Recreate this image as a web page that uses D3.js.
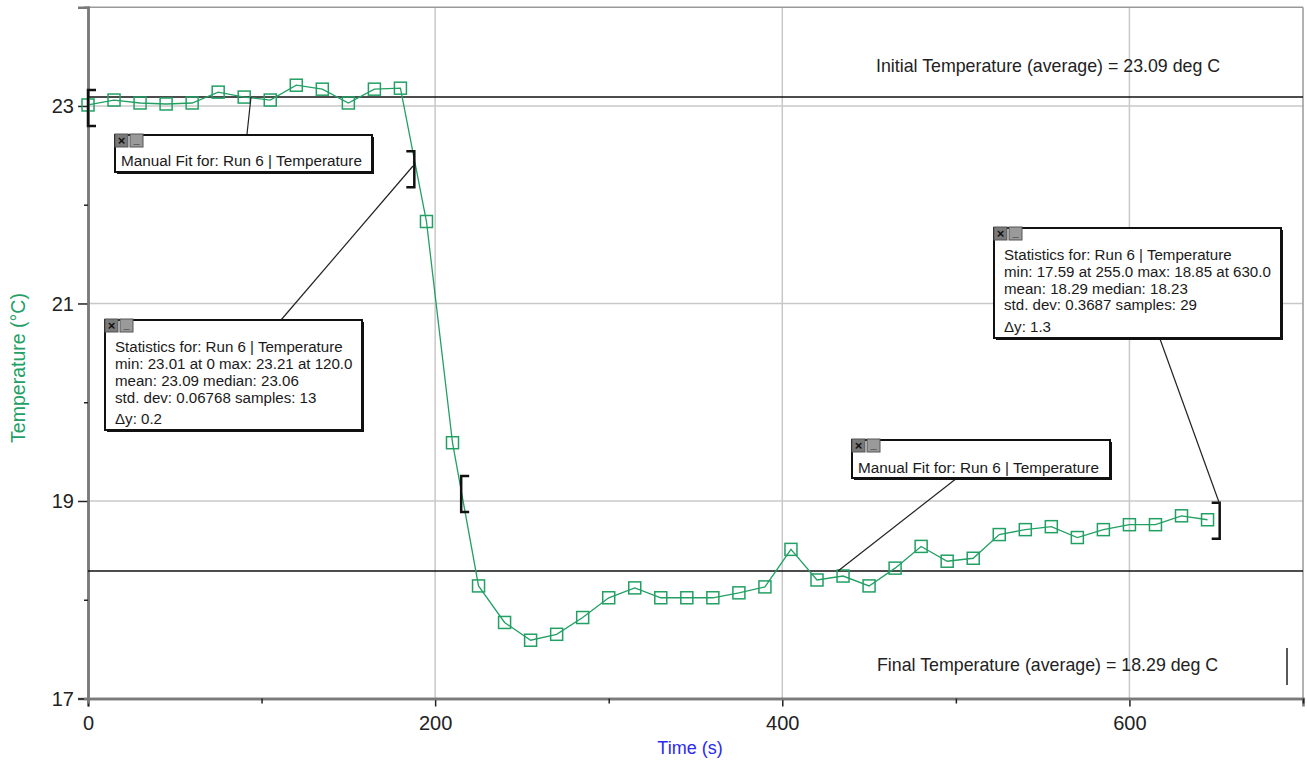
<!DOCTYPE html>
<html><head><meta charset="utf-8">
<script src="https://cdn.jsdelivr.net/npm/d3@7"></script>
<style>html,body{margin:0;padding:0;background:#fff;} svg{display:block;font-family:"Liberation Sans",Arial,sans-serif;}</style>
</head><body>
<script>
// ---- data ----
const times = [0,15,30,45,60,75,90,105,120,135,150,165,180,195,210,225,240,255,270,285,300,315,330,345,360,375,390,405,420,435,450,465,480,495,510,525,540,555,570,585,600,615,630,645];
const temperature = [23.01,23.06,23.03,23.02,23.03,23.14,23.09,23.06,23.21,23.17,23.03,23.17,23.18,21.83,19.59,18.14,17.77,17.59,17.65,17.82,18.02,18.12,18.02,18.02,18.02,18.07,18.13,18.51,18.20,18.24,18.14,18.32,18.54,18.39,18.42,18.66,18.71,18.74,18.63,18.71,18.76,18.76,18.85,18.81];
const xMajorTicks = [0,200,400,600];
const xMinorTicks = [100,300,500,700];
const yMajorTicks = [17,19,21,23];
const yMinorTicks = [18,20,22];
const initialAvg = 23.09;
const finalAvg = 18.29;
const initialLabel = "Initial Temperature (average) = 23.09 deg C";
const finalLabel = "Final Temperature (average) = 18.29 deg C";
const fitLabel = "Manual Fit for: Run 6 | Temperature";
const stats1 = ["Statistics for: Run 6 | Temperature","min: 23.01 at 0 max: 23.21 at 120.0","mean: 23.09 median: 23.06","std. dev: 0.06768 samples: 13","\u0394y: 0.2"];
const stats2 = ["Statistics for: Run 6 | Temperature","min: 17.59 at 255.0 max: 18.85 at 630.0","mean: 18.29 median: 18.23","std. dev: 0.3687 samples: 29","\u0394y: 1.3"];
// bracket anchors [time, temperature, side]
const brackets = [[0,22.98,"L"],[188,22.36,"R"],[215,19.07,"L"],[652,18.8,"R"]];

// ---- layout ----
const W = 1307, H = 763;
const svg = d3.select("body").append("svg").attr("width", W).attr("height", H);
const x = d3.scaleLinear().domain([0,700]).range([88,1303]);
const y = d3.scaleLinear().domain([17,24]).range([698.5,7.2]);
const green = "#22a064";

// plot frame & grid
const grid = svg.append("g");
grid.selectAll("line.gx").data(xMajorTicks.slice(1)).enter().append("line")
  .attr("x1", d=>x(d)).attr("x2", d=>x(d)).attr("y1", y(24)).attr("y2", y(17))
  .attr("stroke","#c8c8c8").attr("stroke-width",1.5);
grid.selectAll("line.gy").data(yMajorTicks.slice(1)).enter().append("line")
  .attr("x1", x(0)).attr("x2", x(700)).attr("y1", d=>y(d)).attr("y2", d=>y(d))
  .attr("stroke","#c8c8c8").attr("stroke-width",1.5);
svg.append("line").attr("x1",x(0)).attr("x2",x(700)).attr("y1",y(24)).attr("y2",y(24)).attr("stroke","#999").attr("stroke-width",1.5);
svg.append("line").attr("x1",x(700)).attr("x2",x(700)).attr("y1",y(24)).attr("y2",y(17)).attr("stroke","#999").attr("stroke-width",1.5);

// axes
const xAxis = svg.append("g").attr("transform",`translate(0,${y(17)})`)
  .call(d3.axisBottom(x).tickValues(xMajorTicks).tickSize(8).tickFormat(d3.format("d")));
const xMinor = svg.append("g").attr("transform",`translate(0,${y(17)})`)
  .call(d3.axisBottom(x).tickValues(xMinorTicks).tickSize(5).tickFormat(""));
const yAxis = svg.append("g").attr("transform",`translate(${x(0)},0)`)
  .call(d3.axisLeft(y).tickValues(yMajorTicks).tickSize(10).tickFormat(d3.format("d")));
const yMinor = svg.append("g").attr("transform",`translate(${x(0)},0)`)
  .call(d3.axisLeft(y).tickValues(yMinorTicks).tickSize(4).tickFormat(""));
[xAxis,xMinor,yAxis,yMinor].forEach(g=>{
  g.select(".domain").attr("stroke","#7a7a7a").attr("stroke-width",2.5);
  g.selectAll(".tick line").attr("stroke","#222").attr("stroke-width",1.5);
  g.selectAll(".tick text").attr("fill","#222").style("font-size","20px").style("font-family","'Liberation Sans',Arial,sans-serif");
});
xAxis.selectAll(".tick text").attr("y",12).attr("dy","0.95em");
yAxis.selectAll(".tick text").attr("x",-14).attr("dy","0.35em");

// axis titles
svg.append("text").attr("x",690).attr("y",754).attr("text-anchor","middle")
  .attr("fill","#2a2af0").style("font-size","18px").text("Time (s)");
svg.append("text").attr("transform","translate(25,368) rotate(-90)").attr("text-anchor","middle")
  .attr("fill",green).style("font-size","19.5px").text("Temperature (\u00b0C)");

// average lines
[initialAvg, finalAvg].forEach(v=>{
  svg.append("line").attr("x1",x(0)).attr("x2",x(700)).attr("y1",y(v)).attr("y2",y(v))
    .attr("stroke","#111").attr("stroke-width",1.5);
});
svg.append("text").attr("x",876).attr("y",72).attr("fill","#222").style("font-size","17.8px").text(initialLabel);
svg.append("text").attr("x",877).attr("y",671).attr("fill","#222").style("font-size","17.8px").text(finalLabel);
svg.append("line").attr("x1",1287).attr("x2",1287).attr("y1",648).attr("y2",685).attr("stroke","#222").attr("stroke-width",1.5);

// data line + markers
const pts = times.map((t,i)=>[t, temperature[i]]);
svg.append("path").datum(pts)
  .attr("d", d3.line().x(d=>x(d[0])).y(d=>y(d[1])))
  .attr("fill","none").attr("stroke",green).attr("stroke-width",1.3);
svg.selectAll("rect.pt").data(pts).enter().append("rect")
  .attr("x", d=>x(d[0])-6).attr("y", d=>y(d[1])-6).attr("width",12).attr("height",12)
  .attr("fill","none").attr("stroke",green).attr("stroke-width",1.5);

// brackets
brackets.forEach(([t,v,side])=>{
  const bx = x(t), by = y(v), h = 36, w = side==="L" ? 8 : -8;
  svg.append("path").attr("d",`M${bx+w},${by-h/2} H${bx} V${by+h/2} H${bx+w}`)
    .attr("fill","none").attr("stroke","#111").attr("stroke-width",2.5);
});

// leader lines
const leaders = [[247,134,251,97],[281,320,413,166],[957,478,838,571],[1160,339,1220,505]];
leaders.forEach(([x1,y1,x2,y2])=>{
  svg.append("line").attr("x1",x1).attr("y1",y1).attr("x2",x2).attr("y2",y2).attr("stroke","#222").attr("stroke-width",1.2);
});

// annotation boxes
function box(x0,y0,w,h,lines,lineYs,fs){
  const g = svg.append("g");
  g.append("rect").attr("x",x0+2).attr("y",y0+2).attr("width",w).attr("height",h).attr("fill","#111");
  g.append("rect").attr("x",x0).attr("y",y0).attr("width",w).attr("height",h).attr("fill","#fff").attr("stroke","#111").attr("stroke-width",2);
  // buttons
  [[0,"\u00d7"],[15,"_"]].forEach(([dx,glyph],i)=>{
    g.append("rect").attr("x",x0+dx).attr("y",y0-1).attr("width",13).attr("height",13)
      .attr("fill", i===0?"#7a7a7a":"#9a9a9a").attr("stroke","#555").attr("stroke-width",1);
    g.append("text").attr("x",x0+dx+6.5).attr("y",y0+(i===0?10:8)).attr("text-anchor","middle")
      .attr("fill","#111").style("font-size", i===0?"13px":"11px").style("font-weight","bold").text(glyph);
  });
  lines.forEach((s,i)=>{
    g.append("text").attr("x",x0+(lines.length>1?10:6)).attr("y",lineYs[i]).attr("fill","#1a1a1a").style("font-size",fs+"px").text(s);
  });
}
box(115,135,257,37,[fitLabel],[166],15.3);
box(852,440,258,38,[fitLabel],[473],15.3);
box(105,320,257,110,stats1,[352,369,386,403,424],15.1);
box(994,228,287,110,stats2,[260,277,294,310,332],15.1);
</script>
</body></html>
